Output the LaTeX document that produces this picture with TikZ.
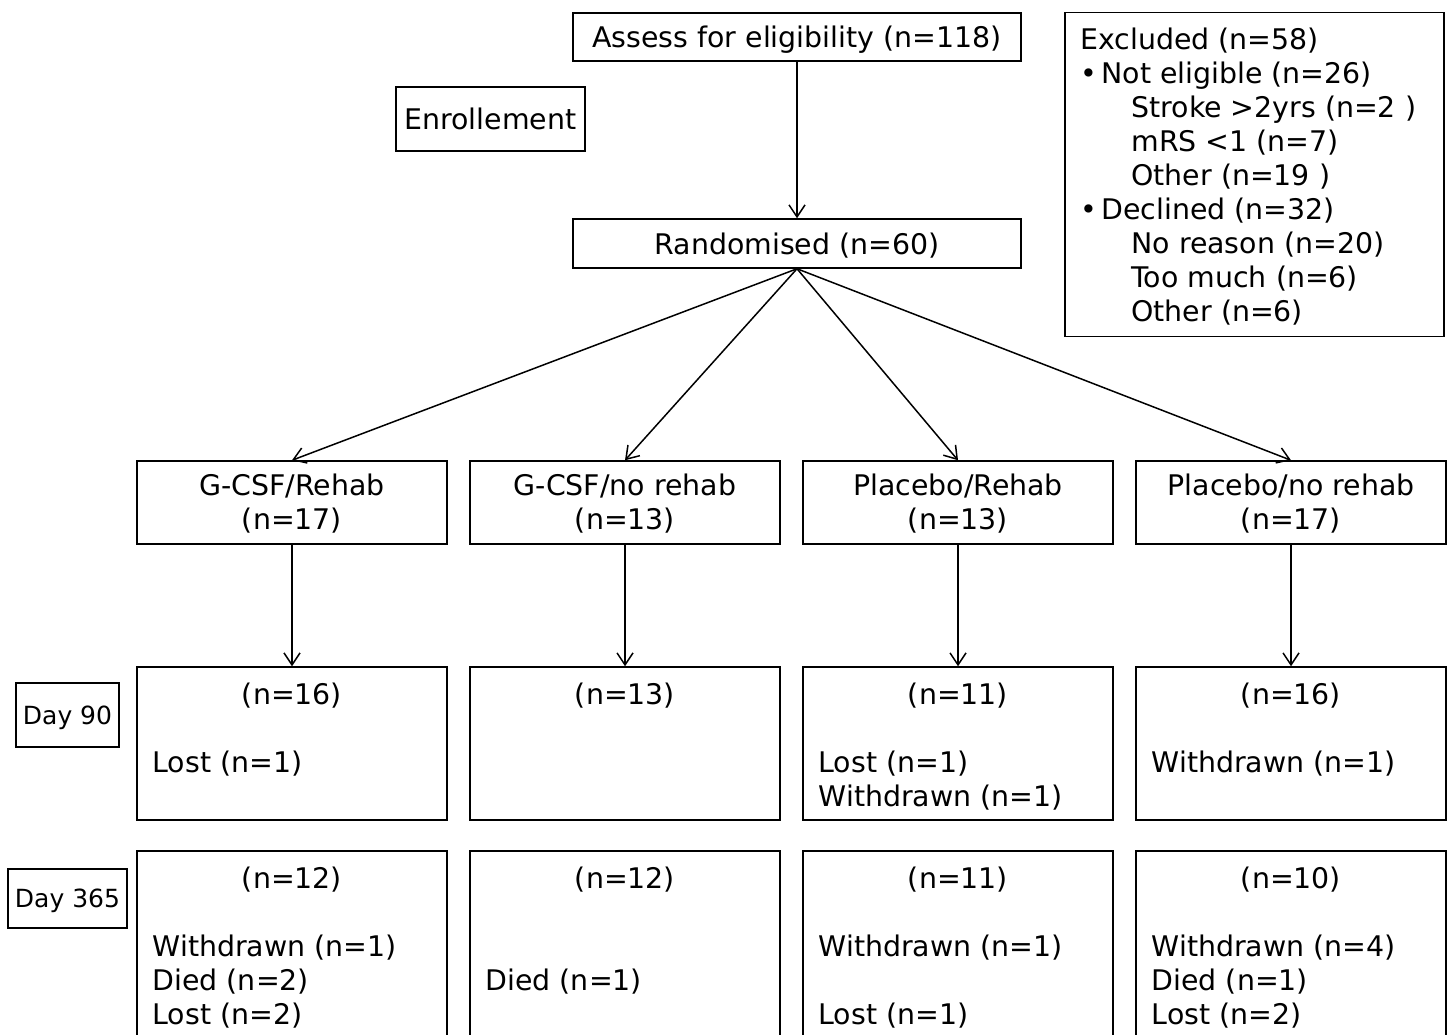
\documentclass[tikz,border=0pt]{standalone}
\usepackage{fontspec}
\setmainfont{DejaVu Sans}
\usetikzlibrary{arrows.meta}
\begin{document}
\begin{tikzpicture}[x=0.5pt,y=-0.5pt,
        box/.style={draw,line width=0.75pt,inner sep=0pt,align=center,font=\fontsize{14.2}{17}\selectfont},
        nbox/.style={box,text depth=0pt},
        txt/.style={inner sep=0pt,align=left,font=\fontsize{14.2}{17}\selectfont},
        daybox/.style={draw,line width=0.75pt,text depth=0pt,font=\fontsize{12.5}{14}\selectfont},
        arr/.style={-{Straight Barb[length=6pt,width=8pt]},line width=0.75pt}]
        \useasboundingbox (0,0) rectangle (1450,1034);
        % enrolment
        \node[nbox,minimum width=224pt,minimum height=24pt] (assess) at (797,37){Assess for eligibility (n=118)};
        \node[box,minimum width=94.5pt,minimum height=32pt] (enrol) at (490.5,119){Enrollement};
        \node[nbox,minimum width=224pt,minimum height=24.5pt] (rand) at (797,243.5){Randomised (n=60)};
        \node[box,minimum width=189.5pt,minimum height=162pt] (excl) at (1254.5,174.5){};
        \node[txt,anchor=north west] (excltxt) at (1080,28){Excluded (n=58)\\
            \makebox[10.5pt][l]{•}Not eligible (n=26)\\
            \hspace*{25.5pt}Stroke >2yrs (n=2 )\\
            \hspace*{25.5pt}mRS <1 (n=7)\\
            \hspace*{25.5pt}Other (n=19 )\\
            \makebox[10.5pt][l]{•}Declined (n=32)\\
            \hspace*{25.5pt}No reason (n=20)\\
            \hspace*{25.5pt}Too much (n=6)\\
            \hspace*{25.5pt}Other (n=6)};
        % arms
        \node[box,minimum width=155pt,minimum height=41.5pt] (gA) at (292,502.5){};
        \node[box,minimum width=155pt,minimum height=41.5pt] (gB) at (625,502.5){};
        \node[box,minimum width=155pt,minimum height=41.5pt] (gC) at (958,502.5){};
        \node[box,minimum width=155pt,minimum height=41.5pt] (gD) at (1291,502.5){};
        \node[txt,align=center,anchor=base] at ([yshift=-34.5pt]gA.north){G-CSF/Rehab\\(n=17)};
        \node[txt,align=center,anchor=base] at ([yshift=-34.5pt]gB.north){G-CSF/no rehab\\(n=13)};
        \node[txt,align=center,anchor=base] at ([yshift=-34.5pt]gC.north){Placebo/Rehab\\(n=13)};
        \node[txt,align=center,anchor=base] at ([yshift=-34.5pt]gD.north){Placebo/no rehab\\(n=17)};
        % day 90
        \node[daybox,minimum width=51.5pt,minimum height=32pt] (day90) at (67.5,715){Day 90};
        \node[box,minimum width=155pt,minimum height=76.5pt] (dA) at (292,743.5){};
        \node[box,minimum width=155pt,minimum height=76.5pt] (dB) at (625,743.5){};
        \node[box,minimum width=155pt,minimum height=76.5pt] (dC) at (958,743.5){};
        \node[box,minimum width=155pt,minimum height=76.5pt] (dD) at (1291,743.5){};
        \node[txt,anchor=base] at ([yshift=-19pt]dA.north){(n=16)};
        \node[txt,anchor=base] at ([yshift=-19pt]dB.north){(n=13)};
        \node[txt,anchor=base] at ([yshift=-19pt]dC.north){(n=11)};
        \node[txt,anchor=base] at ([yshift=-19pt]dD.north){(n=16)};
        \node[txt,anchor=north west] at ([xshift=8pt,yshift=-42pt]dA.north west){Lost (n=1)};
        \node[txt,anchor=north west] at ([xshift=8pt,yshift=-42pt]dC.north west){Lost (n=1)\\Withdrawn (n=1)};
        \node[txt,anchor=north west] at ([xshift=8pt,yshift=-42pt]dD.north west){Withdrawn (n=1)};
        % day 365
        \node[daybox,minimum width=59.5pt,minimum height=29.5pt] (day365) at (67.5,898.5){Day 365};
        \node[box,minimum width=155pt,minimum height=97pt] (yA) at (292,948){};
        \node[box,minimum width=155pt,minimum height=97pt] (yB) at (625,948){};
        \node[box,minimum width=155pt,minimum height=97pt] (yC) at (958,948){};
        \node[box,minimum width=155pt,minimum height=97pt] (yD) at (1291,948){};
        \node[txt,anchor=base] at ([yshift=-19pt]yA.north){(n=12)};
        \node[txt,anchor=base] at ([yshift=-19pt]yB.north){(n=12)};
        \node[txt,anchor=base] at ([yshift=-19pt]yC.north){(n=11)};
        \node[txt,anchor=base] at ([yshift=-19pt]yD.north){(n=10)};
        \node[txt,anchor=north west] at ([xshift=8pt,yshift=-42pt]yA.north west){Withdrawn (n=1)\\Died (n=2)\\Lost (n=2)};
        \node[txt,anchor=north west] at ([xshift=8pt,yshift=-59pt]yB.north west){Died (n=1)};
        \node[txt,anchor=north west] at ([xshift=8pt,yshift=-42pt]yC.north west){Withdrawn (n=1)\\[17pt]Lost (n=1)};
        \node[txt,anchor=north west] at ([xshift=8pt,yshift=-42pt]yD.north west){Withdrawn (n=4)\\Died (n=1)\\Lost (n=2)};
        % connectors
        \draw[arr] (assess.south)--(rand.north);
        \draw[arr] (rand.south)--(gA.north);
        \draw[arr] (rand.south)--(gB.north);
        \draw[arr] (rand.south)--(gC.north);
        \draw[arr] (rand.south)--(gD.north);
        \draw[arr] (gA.south)--(dA.north);
        \draw[arr] (gB.south)--(dB.north);
        \draw[arr] (gC.south)--(dC.north);
        \draw[arr] (gD.south)--(dD.north);
    \end{tikzpicture}
\end{document}
